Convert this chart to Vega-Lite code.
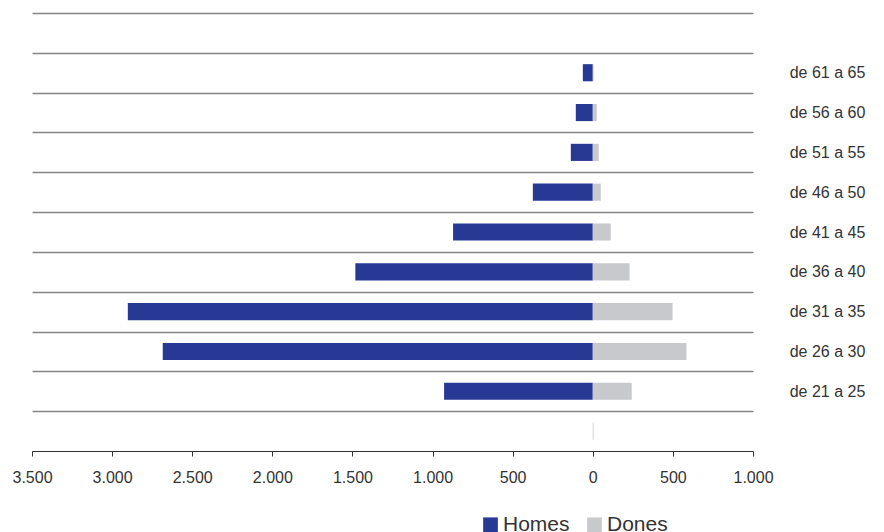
{
  "$schema": "https://vega.github.io/schema/vega-lite/v6.json",
  "width": 721,
  "height": 438,
  "autosize": "none",
  "padding": {"left": 32, "top": 13, "right": 131, "bottom": 81},
  "background": "white",
  "config": {
    "view": {"stroke": null},
    "font": "Liberation Sans",
    "axis": {"labelFont": "Liberation Sans", "labelColor": "#333333"},
    "legend": {"labelFont": "Liberation Sans"}
  },
  "data": {
    "values": [
      {"grup": "_top", "sexe": "Homes", "valor": 0},
      {"grup": "de 61 a 65", "sexe": "Homes", "valor": -62},
      {"grup": "de 61 a 65", "sexe": "Dones", "valor": 5},
      {"grup": "de 56 a 60", "sexe": "Homes", "valor": -106},
      {"grup": "de 56 a 60", "sexe": "Dones", "valor": 25},
      {"grup": "de 51 a 55", "sexe": "Homes", "valor": -137},
      {"grup": "de 51 a 55", "sexe": "Dones", "valor": 37},
      {"grup": "de 46 a 50", "sexe": "Homes", "valor": -374},
      {"grup": "de 46 a 50", "sexe": "Dones", "valor": 50},
      {"grup": "de 41 a 45", "sexe": "Homes", "valor": -872},
      {"grup": "de 41 a 45", "sexe": "Dones", "valor": 112},
      {"grup": "de 36 a 40", "sexe": "Homes", "valor": -1482},
      {"grup": "de 36 a 40", "sexe": "Dones", "valor": 230},
      {"grup": "de 31 a 35", "sexe": "Homes", "valor": -2902},
      {"grup": "de 31 a 35", "sexe": "Dones", "valor": 498},
      {"grup": "de 26 a 30", "sexe": "Homes", "valor": -2684},
      {"grup": "de 26 a 30", "sexe": "Dones", "valor": 585},
      {"grup": "de 21 a 25", "sexe": "Homes", "valor": -928},
      {"grup": "de 21 a 25", "sexe": "Dones", "valor": 243},
      {"grup": "_bot", "sexe": "Homes", "valor": 0},
      {"grup": "_bot", "sexe": "Dones", "valor": 5}
    ]
  },
  "mark": {"type": "bar"},
  "encoding": {
    "y": {
      "field": "grup",
      "type": "nominal",
      "scale": {
        "domain": ["_top", "de 61 a 65", "de 56 a 60", "de 51 a 55", "de 46 a 50", "de 41 a 45", "de 36 a 40", "de 31 a 35", "de 26 a 30", "de 21 a 25", "_bot"],
        "paddingInner": 0.57,
        "paddingOuter": 0.285
      },
      "axis": {
        "orient": "right",
        "title": null,
        "domain": false,
        "ticks": false,
        "grid": true,
        "tickOffset": -19.909,
        "labelOffset": 19.909,
        "gridColor": "#858585",
        "gridWidth": 1.5,
        "labelExpr": "indexof(datum.label, 'de') === 0 ? datum.label : ''",
        "labelAlign": "center",
        "labelPadding": 74,
        "labelFontSize": 16,
        "labelColor": "#333333"
      }
    },
    "x": {
      "field": "valor",
      "type": "quantitative",
      "stack": null,
      "scale": {"domain": [-3500, 1000], "nice": false},
      "axis": {
        "title": null,
        "values": [-3500, -3000, -2500, -2000, -1500, -1000, -500, 0, 500, 1000],
        "labelExpr": "replace(format(abs(datum.value), ','), ',', '.')",
        "labelFlush": false,
        "labelOverlap": false,
        "grid": false,
        "domainColor": "#333333",
        "tickColor": "#333333",
        "tickSize": 5,
        "labelFontSize": 16,
        "labelPadding": 13,
        "labelColor": "#333333"
      }
    },
    "color": {
      "field": "sexe",
      "type": "nominal",
      "scale": {"domain": ["Homes", "Dones"], "range": ["#283895", "#c8c9cd"]},
      "legend": {
        "title": null,
        "orient": "none",
        "direction": "horizontal",
        "legendX": 448,
        "legendY": 501,
        "padding": 0,
        "symbolType": "square",
        "symbolSize": 216,
        "symbolStrokeWidth": 0,
        "symbolOpacity": 1,
        "labelFontSize": 21,
        "labelColor": "#333333",
        "labelOffset": 2,
        "columnPadding": 14
      }
    }
  }
}
